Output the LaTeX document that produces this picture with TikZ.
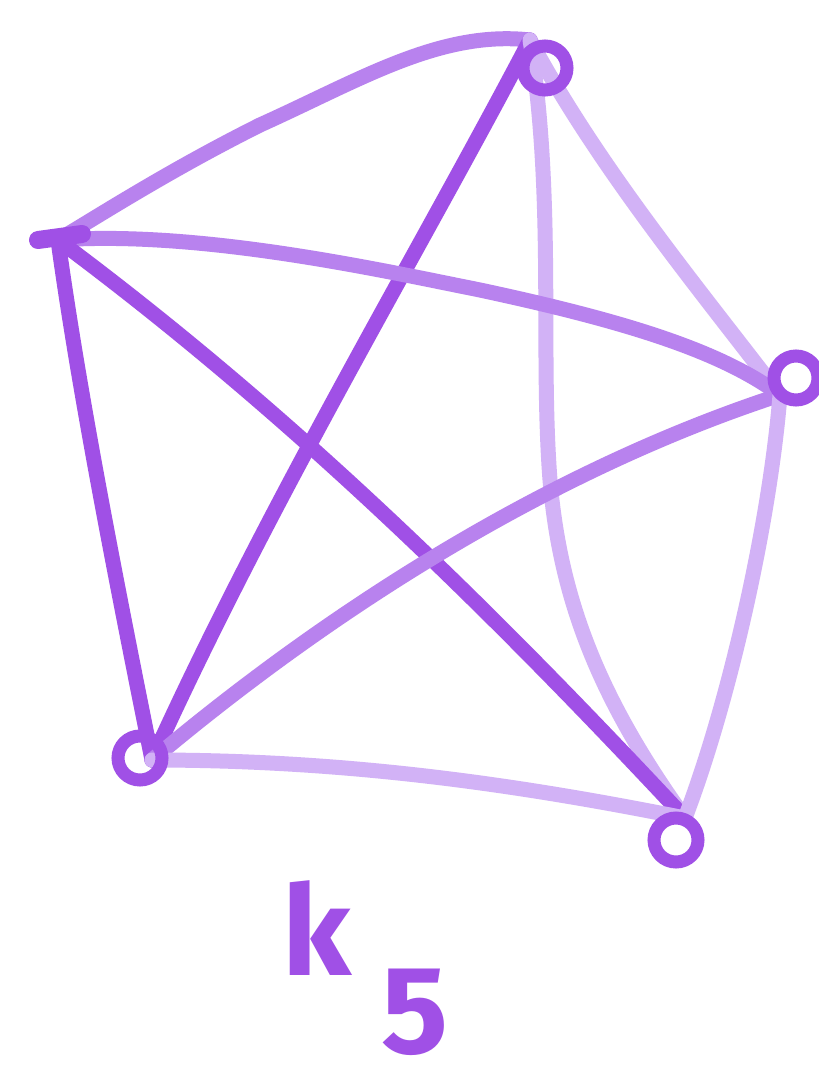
\documentclass[tikz,border=0pt]{standalone}
\usepackage{fontspec}
\setsansfont{Fira Sans}
\definecolor{pdark}{HTML}{A050E6}
\definecolor{pmid}{HTML}{B882EE}
\definecolor{plight}{HTML}{D2B2F6}
\begin{document}
\begin{tikzpicture}[x=1pt,y=-1pt,
  edgedark/.style={draw=pdark,line width=15pt,line cap=round,line join=round},
  edgemid/.style={draw=pmid,line width=15pt,line cap=round,line join=round},
  edgelight/.style={draw=plight,line width=15pt,line cap=round,line join=round},
  vloop/.style={circle,draw=pdark,line width=13pt,minimum size=44pt,inner sep=0pt},
  lbl/.style={text=pdark,font=\sffamily\bfseries\fontsize{125}{125}\selectfont}]
\useasboundingbox (0,0) rectangle (819,1092);
\fill[white] (0,0) rectangle (819,1092);
\coordinate (T) at (530,40);
\coordinate (L) at (58,240);
\coordinate (R) at (780,395);
\coordinate (BL) at (152,760);
\coordinate (BR) at (685,818);
% edges
\draw[edgemid] (T) .. controls (440,30) and (360,80) .. (260,125) .. controls (170,170) and (100,215) .. (L);
\draw[edgelight] (T) .. controls (600,170) and (700,290) .. (R);
\draw[edgedark] (T) .. controls (420,250) and (270,500) .. (BL);
\draw[edgelight] (T) .. controls (555,200) and (540,350) .. (550,480) .. controls (560,600) and (600,700) .. (BR);
\draw[edgemid] (L) .. controls (200,230) and (380,270) .. (480,290) .. controls (620,320) and (720,350) .. (R);
\draw[edgedark] (L) .. controls (80,400) and (120,600) .. (BL);
\draw[edgedark] (L) .. controls (300,420) and (500,620) .. (BR);
\draw[edgemid] (R) .. controls (550,470) and (330,610) .. (BL);
\draw[edgelight] (R) .. controls (770,520) and (730,700) .. (BR);
\draw[edgelight] (BL) .. controls (350,760) and (520,785) .. (BR);
% vertex loops
\node[vloop] (vT) at (545,68) {};
\node[vloop] (vR) at (796,378) {};
\node[vloop] (vBL) at (140,758) {};
\node[vloop] (vBR) at (676,840) {};
\draw[pdark,line width=18pt,line cap=round] (38,240) -- (82,234);
\node[lbl,inner sep=0pt,anchor=north west] (k5) at (282,880) {k\kern30pt\raisebox{-78pt}{5}};
\end{tikzpicture}
\end{document}
